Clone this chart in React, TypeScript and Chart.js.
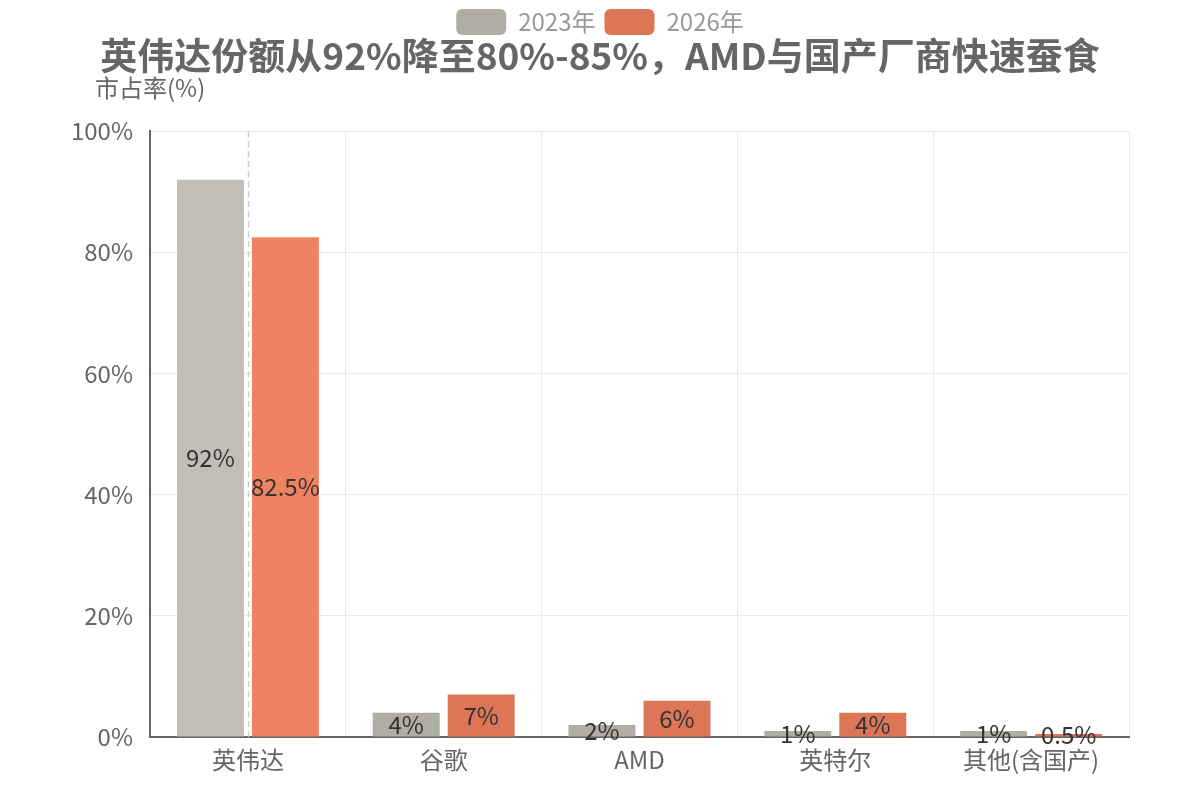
import React, { useEffect, useRef } from "react";
import { Chart, registerables } from "chart.js";

Chart.register(...registerables);

const categories = ["英伟达", "谷歌", "AMD", "英特尔", "其他(含国产)"];
const series2023 = [92, 4, 2, 1, 1];
const series2026 = [82.5, 7, 6, 4, 0.5];
const seriesNames = ["2023年", "2026年"];
const yTicks = [0, 20, 40, 60, 80, 100];

const FONT = "'Noto Sans CJK SC', 'Noto Sans', sans-serif";
const GRAY = "#b0ada4";
const GRAY_HI = "#c1beb6";
const ORANGE = "#dc7656";
const ORANGE_HI = "#ef8361";

const extrasPlugin = {
  id: "extras",
  beforeDatasetsDraw(chart: any) {
    const { ctx, chartArea, scales } = chart;
    const x = scales.x.getPixelForValue(0);
    ctx.save();
    ctx.strokeStyle = "#cccccc";
    ctx.lineWidth = 1.5;
    ctx.setLineDash([6, 4]);
    ctx.beginPath();
    ctx.moveTo(Math.round(x) + 0.5, chartArea.top);
    ctx.lineTo(Math.round(x) + 0.5, chartArea.bottom);
    ctx.stroke();
    ctx.restore();
  },
  afterDatasetsDraw(chart: any) {
    const { ctx, chartArea } = chart;
    ctx.save();
    ctx.font = `24px ${FONT}`;
    ctx.fillStyle = "#333333";
    ctx.textAlign = "center";
    ctx.textBaseline = "middle";
    chart.data.datasets.forEach((ds: any, di: number) => {
      const meta = chart.getDatasetMeta(di);
      meta.data.forEach((bar: any, i: number) => {
        const yMid = (bar.y + bar.base) / 2;
        ctx.fillText(`${ds.data[i]}%`, bar.x, yMid);
      });
    });
    // y axis title
    ctx.font = `24px ${FONT}`;
    ctx.fillStyle = "#666666";
    ctx.textAlign = "left";
    ctx.textBaseline = "middle";
    ctx.fillText("市占率(%)", chartArea.left - 55, chartArea.top - 43);
    ctx.restore();
  },
};

export default function App() {
  const ref = useRef<HTMLCanvasElement>(null);
  useEffect(() => {
    document.body.style.margin = "0";
    const chart = new Chart(ref.current!, {
      type: "bar",
      data: {
        labels: categories,
        datasets: [
          {
            label: seriesNames[0],
            data: series2023,
            backgroundColor: series2023.map((_, i) => (i === 0 ? GRAY_HI : GRAY)),
            categoryPercentage: 0.766,
            barPercentage: 0.893,
          },
          {
            label: seriesNames[1],
            data: series2026,
            backgroundColor: series2026.map((_, i) => (i === 0 ? ORANGE_HI : ORANGE)),
            categoryPercentage: 0.766,
            barPercentage: 0.893,
          },
        ],
      },
      options: {
        responsive: false,
        animation: false,
        layout: { padding: 0 },
        plugins: {
          tooltip: { enabled: false },
          legend: {
            position: "top",
            weight: 3000,
            labels: {
              boxWidth: 50,
              boxHeight: 26,
              useBorderRadius: true,
              borderRadius: 6,
              color: "#999999",
              font: { family: FONT, size: 24 },
              padding: 9,
              generateLabels: () =>
                [
                  { text: seriesNames[0], fillStyle: GRAY, strokeStyle: GRAY, fontColor: "#999999", lineWidth: 0, datasetIndex: 0, borderRadius: 6 },
                  { text: seriesNames[1], fillStyle: ORANGE, strokeStyle: ORANGE, fontColor: "#999999", lineWidth: 0, datasetIndex: 1, borderRadius: 6 },
                ] as any,
            },
          },
          title: {
            display: true,
            text: "英伟达份额从92%降至80%-85%，AMD与国产厂商快速蚕食",
            color: "#666666",
            font: { family: FONT, size: 37, weight: "bold", lineHeight: 0.6 },
            padding: { top: 0, bottom: 64 },
          },
        },
        scales: {
          x: {
            grid: { color: "#eaeaea", tickLength: 0, offset: true },
            border: { color: "#666666", width: 2 },
            ticks: { color: "#666666", font: { family: FONT, size: 24 }, padding: 8 },
            afterFit: (s: any) => {
              s.height = 63;
            },
          },
          y: {
            min: 0,
            max: 100,
            afterBuildTicks: (s: any) => {
              s.ticks = yTicks.map((v) => ({ value: v }));
            },
            grid: { color: "#eaeaea", tickLength: 0 },
            border: { color: "#666666", width: 2 },
            ticks: {
              color: "#666666",
              font: { family: FONT, size: 24 },
              padding: 17,
              callback: (v: any) => `${v}%`,
            },
            afterFit: (s: any) => {
              s.width = 150;
            },
          },
          yRight: {
            position: "right",
            display: true,
            grid: { display: false },
            ticks: { display: false },
            border: { display: false },
            afterFit: (s: any) => {
              s.width = 71;
            },
          },
        },
      },
      plugins: [extrasPlugin],
    });
    return () => chart.destroy();
  }, []);
  return <canvas ref={ref} width={1200} height={800} style={{ display: "block" }} />;
}
